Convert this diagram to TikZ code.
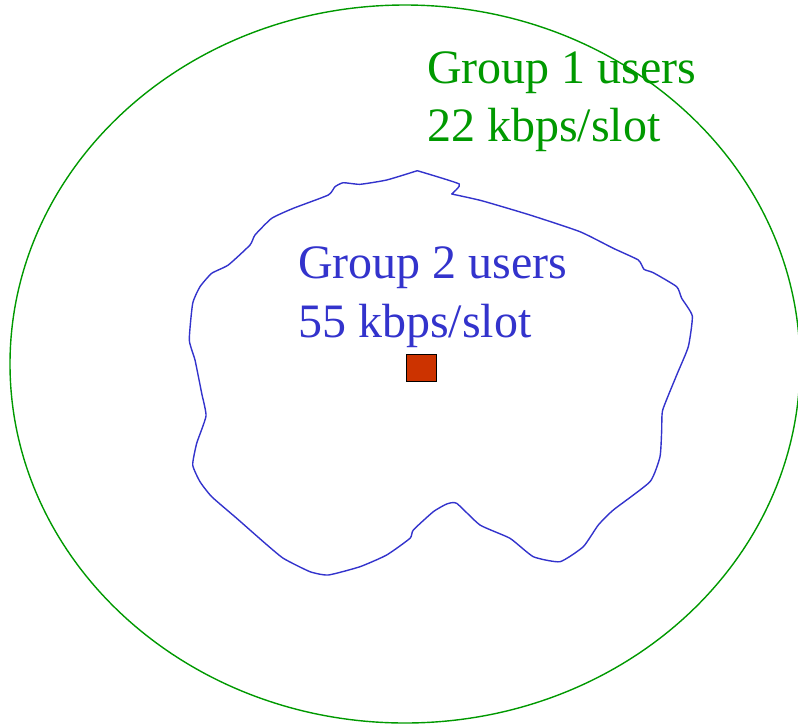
\documentclass[tikz,border=0pt]{standalone}
\usepackage{fontspec}
\newfontfamily\timesfont{LiberationSerif}[Extension=.ttf,UprightFont=*-Regular]
\definecolor{grp1}{HTML}{009900}
\definecolor{grp2}{HTML}{3333CC}
\definecolor{bsfill}{HTML}{CC3300}
\begin{document}
\begin{tikzpicture}[x=1pt,y=-1pt,
  label1/.style={text=grp1,anchor=base west,inner sep=0pt,font=\timesfont\fontsize{48}{58}\selectfont},
  label2/.style={text=grp2,anchor=base west,inner sep=0pt,font=\timesfont\fontsize{48}{58}\selectfont},
  cell/.style={draw=grp1,line width=1.4pt},
  zone/.style={draw=grp2,line width=1.4pt,line join=round},
  bs/.style={draw=black,fill=bsfill,line width=1.2pt,minimum width=30pt,minimum height=27pt,inner sep=0pt}]
\useasboundingbox (0,0) rectangle (798,724);
\clip (0,0) rectangle (798,724);
\draw[cell] (405,364) ellipse [x radius=395, y radius=359];
\draw[zone] plot[smooth,tension=0.25] coordinates {
(417.3,170.7) (459.3,184) (451.7,194) } -- plot[smooth,tension=0.3] coordinates {(451.7,194) (481.7,200.7) (530,215) (580,231.7)
(613.3,248.3) (638.3,260) (644,269.3) (653.3,272.7) (676.7,286.7) (681.7,298.3)
(692.3,316) (688.3,346.7) (676.7,375) (662.7,410) (661.7,430) (660,456.7)
(650,481.7) (613.3,510) (598.3,525) (583.3,546.7) (560,561.7) (533.3,556.7)
(510,538.3) (480,525) (456.7,503.3) (446.7,504) (433.3,511.7) (413.3,530)
(410,538.3) (386.7,555) (360,566.7) (328.3,575) (310,571.7) (283.3,558.3)
(263.3,541.7) (236.7,518.3) (211.7,496.7) (200,481.7) (192.7,465) (196.7,443.3)
(206,416) (201.7,393.3) (195,360) (189.3,340) (192.7,303.3) (200,286.7)
(211.7,273.3) (228.3,265) (250,245) (255,235) (271.7,218.3) (293.3,208.3)
(328.3,195) (335,186.7) (343.3,182.7) (360,184.3) (386.7,180) (417.3,170.7)};
\node[bs] (station) at (421.7,368.3) {};
\node[label1] (g1a) at (427,83) {Group 1 users};
\node[label1] (g1b) at (427,141) {22 kbps/slot};
\node[label2] (g2a) at (298,278) {Group 2 users};
\node[label2] (g2b) at (298,337) {55 kbps/slot};
\end{tikzpicture}
\end{document}
